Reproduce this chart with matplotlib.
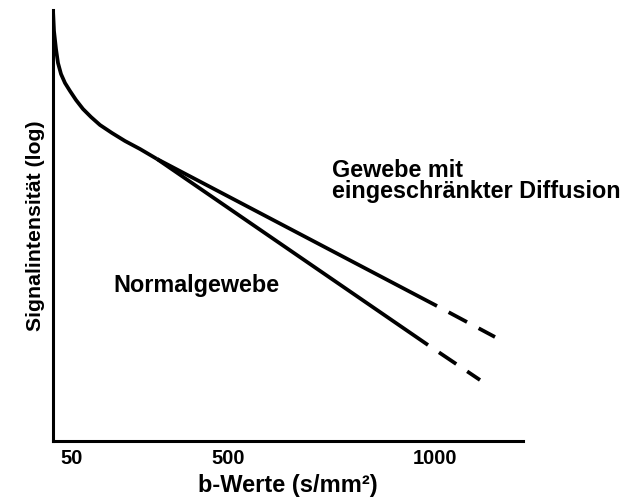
import matplotlib
matplotlib.use("Agg")
import matplotlib.pyplot as plt

plt.rcParams['font.family'] = ['Liberation Sans', 'DejaVu Sans']
plt.rcParams['font.weight'] = 'bold'
plt.rcParams['lines.scale_dashes'] = False

# schematische Koordinaten (x nach rechts, y nach oben)
# gemeinsamer steiler Abfall am Anfang (Perfusion)
kurve_x = [0, 1, 3, 5, 8, 12, 17, 23, 30, 38, 47, 59, 72, 87, 104]
kurve_y = [431, 410, 392, 378, 367, 358, 350, 341, 332, 324, 316, 308, 300, 292, 282]

# eingeschraenkte Diffusion (obere Linie)
gewebe_x = [104, 384]
gewebe_y = [282, 135]
gewebe_dash_x = [384, 442]
gewebe_dash_y = [135, 104]

# Normalgewebe (untere Linie)
normal_x = [104, 375]
normal_y = [282, 96]
normal_dash_x = [375, 427]
normal_dash_y = [96, 61]

tick_pos = [19, 175, 382]
tick_labels = ['50', '500', '1000']

fig = plt.figure(figsize=(6.32, 4.99), dpi=100)
ax = fig.add_axes([53 / 632, 58 / 499, 470 / 632, 431 / 499])

lw = 2.7
ax.plot(kurve_x, kurve_y, color='black', lw=lw, solid_capstyle='butt',
        solid_joinstyle='round')
ax.plot(gewebe_x, gewebe_y, color='black', lw=lw, solid_capstyle='butt')
ax.plot(normal_x, normal_y, color='black', lw=lw, solid_capstyle='butt')

# gestrichelte Verlaengerung, beginnt mit einer Luecke
muster = (15, (15, 9.5))
ax.plot(gewebe_dash_x, gewebe_dash_y, color='black', lw=lw,
        linestyle=muster, dash_capstyle='butt')
ax.plot(normal_dash_x, normal_dash_y, color='black', lw=lw,
        linestyle=muster, dash_capstyle='butt')

ax.set_xlim(0, 470)
ax.set_ylim(0, 431)

for s in ['top', 'right']:
    ax.spines[s].set_visible(False)
for s in ['left', 'bottom']:
    ax.spines[s].set_linewidth(2.2)

ax.set_yticks([])
ax.set_xticks(tick_pos)
ax.set_xticklabels(tick_labels, fontsize=14.5, fontweight='bold')
ax.tick_params(axis='x', length=0, pad=6)

ax.set_xlabel('b-Werte (s/mm²)', fontsize=17, fontweight='bold', labelpad=4)
ax.set_ylabel('Signalintensität (log)', fontsize=15.3, fontweight='bold', labelpad=6)

ax.text(279, 264, 'Gewebe mit', fontsize=16.8, fontweight='bold', va='baseline')
ax.text(279, 243, 'eingeschränkter Diffusion', fontsize=16.8, fontweight='bold',
        va='baseline')
ax.text(60, 149, 'Normalgewebe', fontsize=16.8, fontweight='bold', va='baseline')

fig.savefig('out.png', dpi=100)
